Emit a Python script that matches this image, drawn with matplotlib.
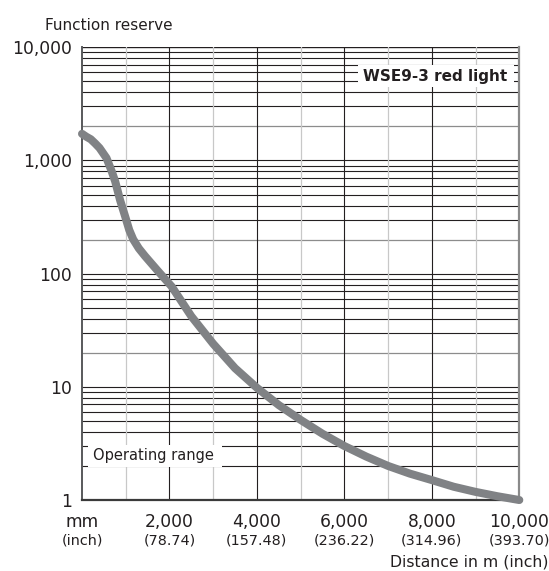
import matplotlib
matplotlib.use("Agg")
import matplotlib.pyplot as plt
from matplotlib.patches import Rectangle

# curve (distance in mm, function reserve)
distance = [0, 100, 200, 300, 400, 560, 680, 760, 870, 1000, 1080, 1170,
            1300, 1440, 1750, 2050, 2500, 3000, 3500, 4000, 4500, 5000,
            5500, 6000, 6500, 7000, 7500, 8000, 8500, 9000, 9500, 10000]
reserve = [1720, 1620, 1540, 1415, 1290, 1050, 800, 650, 447, 308, 243, 201,
           167, 143, 104, 77, 42, 24, 14.6, 9.8, 6.9, 5.1,
           3.85, 3.0, 2.42, 2.0, 1.71, 1.5, 1.31, 1.18, 1.08, 1.0]

x_ticks = [0, 2000, 4000, 6000, 8000, 10000]
x_labels_mm = ["mm", "2,000", "4,000", "6,000", "8,000", "10,000"]
x_labels_inch = ["(inch)", "(78.74)", "(157.48)", "(236.22)", "(314.96)", "(393.70)"]
y_ticks = [1, 10, 100, 1000, 10000]
y_labels = ["1", "10", "100", "1,000", "10,000"]
operating_limit = 2

BLACK = "#231f20"
GREY_LINE = "#8c8c8c"
LIGHT = "#c8c8c8"
CURVE = "#808285"

plt.rcParams['font.family'] = ['DejaVu Sans']

fig = plt.figure(figsize=(5.49, 5.71), dpi=100)
ax = fig.add_axes([0.1494, 0.1243, 0.7965, 0.7929])
ax.set_yscale('log')
ax.set_xlim(0, 10000)
ax.set_ylim(1, 10000)

# horizontal grid: every 1..9 x 10^k, the "2" lines grey except operating limit
for k in range(4):
    for m in range(1, 10):
        v = m * 10 ** k
        if v == 1:
            continue
        if m == 2 and v != operating_limit:
            ax.axhline(v, color=GREY_LINE, lw=0.9, zorder=1)
        else:
            ax.axhline(v, color=BLACK, lw=0.8, zorder=1)
ax.axhline(10000, color=BLACK, lw=1.0, zorder=1)

# vertical grid: black on even thousands, light on odd
for xv in range(1000, 10000, 1000):
    if xv % 2000 == 0:
        ax.axvline(xv, color=BLACK, lw=0.8, zorder=1)
    else:
        ax.axvline(xv, color=LIGHT, lw=0.9, zorder=1)

ax.spines['top'].set_visible(False)
ax.spines['left'].set_color("#58595b")
ax.spines['left'].set_linewidth(1.4)
ax.spines['right'].set_color("#8a8a8a")
ax.spines['right'].set_linewidth(1.6)
ax.spines['bottom'].set_color("#3a3a3a")
ax.spines['bottom'].set_linewidth(1.6)

# label boxes (white patches covering the grid)
ax.add_patch(Rectangle((0.631, 0.913), 0.357, 0.047, transform=ax.transAxes,
                       facecolor='white', edgecolor='none', zorder=2))
ax.text(0.972, 0.9365, "WSE9-3 red light", transform=ax.transAxes,
        ha='right', va='center', fontsize=11, fontweight='bold',
        color=BLACK, zorder=3)

ax.add_patch(Rectangle((0.014, 0.074), 0.305, 0.047, transform=ax.transAxes,
                       facecolor='white', edgecolor='none', zorder=2))
ax.text(0.026, 0.0975, "Operating range", transform=ax.transAxes,
        ha='left', va='center', fontsize=10.5, color=BLACK, zorder=3)

ax.plot(distance, reserve, color=CURVE, lw=5.8, solid_capstyle='round',
        solid_joinstyle='round', zorder=4, clip_on=False)

ax.set_yticks(y_ticks)
ax.set_yticklabels(y_labels)
ax.yaxis.set_minor_locator(matplotlib.ticker.NullLocator())
ax.set_xticks(x_ticks)
ax.set_xticklabels(x_labels_mm)
ax.tick_params(axis='both', length=0, labelsize=12.3, colors='#231f20')
ax.tick_params(axis='y', pad=7)
ax.tick_params(axis='x', pad=9)

for xv, lab in zip(x_ticks, x_labels_inch):
    ax.text(xv, -0.09, lab, transform=ax.get_xaxis_transform(),
            ha='center', va='center', fontsize=10.4, color=BLACK)

fig.text(45 / 549, 1 - 30 / 571, "Function reserve", fontsize=11,
         ha='left', va='baseline', color=BLACK)
fig.text(548 / 549, 1 - 562 / 571, "Distance in m (inch)", fontsize=11.3,
         ha='right', va='center', color=BLACK)

plt.savefig("out.png", dpi=100)
